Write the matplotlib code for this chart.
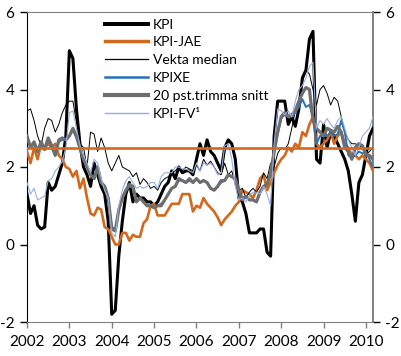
import numpy as np
import matplotlib
matplotlib.use('Agg')
import matplotlib.pyplot as plt

plt.rcParams['font.family'] = ['Lato', 'DejaVu Sans']

# monthly 12-month growth, Jan 2002 - Mar 2010
kpi = [1.3, 0.8, 1.0, 0.5, 0.4, 0.45, 1.6, 1.4, 1.5, 1.8, 2.1, 2.8,
       5.0, 4.8, 3.5, 2.6, 2.0, 1.8, 1.5, 2.1, 1.8, 1.5, 1.3, 0.6,
       -1.8, -1.7, -0.3, 0.6, 1.3, 1.6, 1.1, 1.3, 1.2, 1.2, 1.1, 1.1,
       1.0, 1.1, 1.3, 1.5, 1.6, 1.9, 1.7, 2.0, 1.85, 1.9, 1.9, 1.8,
       2.2, 2.6, 2.3, 2.7, 2.4, 2.3, 2.1, 1.9, 2.5, 2.7, 2.6, 2.2,
       1.2, 1.1, 0.8, 0.3, 0.3, 0.3, 0.4, 0.4, -0.2, -0.3, 2.8, 3.7,
       3.7, 3.7, 3.1, 3.3, 3.05, 3.5, 4.3, 4.5, 5.3, 5.5, 2.2, 2.1,
       3.1, 2.5, 2.9, 2.8, 2.6, 2.4, 2.2, 1.9, 1.3, 0.6, 1.6, 1.8,
       2.3, 2.8, 3.0]
kpi_jae = [2.4, 2.1, 2.5, 2.2, 2.6, 2.5, 2.6, 2.5, 2.6, 2.3, 2.2, 2.0,
           1.95, 1.75, 1.9, 1.45, 1.7, 1.2, 0.8, 0.75, 0.95, 0.9, 0.45, 0.4,
           0.2, 0.0, 0.0, 0.3, 0.3, 0.1, 0.25, 0.2, 0.2, 0.55, 0.65, 1.0,
           1.05, 0.75, 0.75, 0.75, 0.9, 1.05, 1.05, 1.05, 1.3, 1.3, 1.3, 0.85,
           1.0, 0.95, 1.2, 1.05, 0.95, 0.85, 0.7, 0.5, 0.65, 0.75, 0.85, 1.0,
           1.1, 1.4, 1.35, 1.3, 1.2, 1.4, 1.7, 1.8, 1.4, 1.6, 1.85, 2.05,
           2.2, 2.3, 2.5, 2.4, 2.6, 2.5, 2.9, 2.8, 3.1, 3.3, 2.6, 2.5,
           2.6, 2.7, 2.9, 2.6, 2.8, 2.9, 2.6, 2.5, 2.3, 2.3, 2.2, 2.3,
           2.2, 2.1, 1.9]
vekta_median = [3.45, 3.5, 3.2, 2.8, 2.55, 3.0, 3.25, 3.2, 2.9, 3.1, 3.4, 3.6,
                3.7, 3.7, 3.15, 2.6, 2.5, 2.0, 2.9, 2.85, 2.4, 2.75, 2.5, 2.1,
                1.9, 2.1, 2.3, 2.0, 1.95, 1.9, 1.75, 1.85, 1.55, 1.7, 1.6, 1.45,
                1.5, 1.4, 1.6, 1.7, 1.75, 1.85, 1.9, 2.0, 1.9, 2.0, 1.95, 1.9,
                2.05, 1.9, 2.2, 2.05, 2.15, 2.0, 1.85, 1.8, 2.1, 1.8, 1.9, 1.55,
                1.4, 1.45, 1.2, 1.35, 1.45, 1.35, 1.5, 1.85, 1.7, 2.1, 2.0, 2.35,
                2.5, 2.45, 2.6, 3.0, 3.45, 3.7, 4.2, 4.5, 4.4, 4.0, 3.6, 4.0,
                4.1, 3.9, 3.6, 3.8, 3.7, 3.3, 2.9, 2.7, 2.6, 2.6, 2.55, 2.5,
                2.3, 2.4, 2.5]
kpixe = [2.75, 2.5, 2.6, 2.4, 2.6, 2.45, 2.7, 2.5, 2.3, 2.65, 2.7, 2.7,
         2.8, 2.95, 2.75, 2.45, 2.2, 2.0, 1.8, 1.7, 1.95, 1.6, 1.5, 1.2,
         0.45, 0.4, 0.9, 1.2, 1.4, 1.5, 1.45, 1.1, 1.2, 1.1, 1.0, 1.0,
         0.95, 1.0, 1.05, 1.15, 1.3, 1.45, 1.5, 1.65, 1.65, 1.6, 1.65, 1.6,
         1.7, 1.6, 1.65, 1.6, 1.45, 1.4, 1.5, 1.6, 1.65, 1.8, 1.75, 1.7,
         1.4, 1.2, 1.25, 1.15, 1.15, 1.1, 1.35, 1.5, 1.55, 1.85, 2.4, 2.85,
         3.25, 3.35, 3.3, 3.3, 3.4, 3.55, 3.75, 3.55, 3.6, 3.3, 2.6, 2.8,
         2.8, 2.8, 2.9, 2.8, 2.85, 3.2, 2.9, 2.3, 2.25, 2.3, 2.4, 2.35,
         2.4, 2.2, 2.0]
trimma = [2.8, 2.5, 2.65, 2.4, 2.65, 2.45, 2.75, 2.55, 2.3, 2.7, 2.75, 2.7,
          2.8, 3.0, 2.8, 2.5, 2.2, 2.0, 1.8, 1.7, 2.0, 1.6, 1.5, 1.2,
          0.4, 0.35, 0.9, 1.2, 1.4, 1.55, 1.5, 1.1, 1.2, 1.1, 1.0, 1.0,
          0.95, 1.0, 1.0, 1.15, 1.3, 1.45, 1.5, 1.7, 1.65, 1.6, 1.7, 1.6,
          1.7, 1.6, 1.65, 1.6, 1.45, 1.4, 1.5, 1.65, 1.65, 1.8, 1.75, 1.7,
          1.4, 1.15, 1.25, 1.15, 1.15, 1.1, 1.35, 1.5, 1.55, 1.85, 2.4, 2.9,
          3.3, 3.4, 3.3, 3.35, 3.45, 3.7, 3.9, 4.05, 4.0, 3.2, 3.0, 2.9,
          2.8, 3.0, 2.95, 2.9, 3.05, 2.9, 2.5, 2.4, 2.2, 2.5, 2.6, 2.55,
          2.3, 2.3, 2.2]
kpi_fv = [1.6, 1.3, 1.45, 1.15, 1.2, 1.25, 1.65, 1.7, 1.9, 2.0, 2.15, 2.5,
          3.4, 3.45, 3.0, 2.55, 2.3, 2.1, 1.85, 2.2, 2.1, 1.7, 1.4, 1.2,
          0.3, 0.2, 1.0, 1.4, 1.65, 1.75, 1.6, 1.45, 1.5, 1.45, 1.5, 1.6,
          1.6, 1.45, 1.75, 1.85, 1.85, 1.85, 2.0, 2.0, 1.95, 1.95, 1.9, 1.85,
          2.1, 1.9, 2.1, 2.05, 2.1, 2.0, 1.8, 1.85, 2.55, 2.6, 2.2, 1.5,
          1.15, 1.2, 1.1, 1.25, 1.35, 1.35, 1.3, 1.5, 1.3, 1.0, 2.6, 3.5,
          3.45, 3.35, 3.45, 3.3, 3.7, 4.0, 4.1, 4.3, 4.6, 4.7, 3.0, 3.2,
          3.1, 3.25, 3.1, 3.0, 3.2, 3.3, 3.0, 2.7, 2.5, 2.3, 2.5, 2.8,
          2.9, 3.0, 3.3]
target = 2.5
years = list(range(2002, 2011))
yticks = [-2, 0, 2, 4, 6]

x = 2002 + np.arange(len(kpi)) / 12.0

fig = plt.figure(figsize=(4.01, 3.56), dpi=100)
ax = fig.add_axes([27/401, 34/356, 346/401, 310/356])

orange = '#d2691e'
ax.plot(x, kpi, color='black', lw=2.2, label='KPI', zorder=3)
ax.plot(x, kpi_jae, color=orange, lw=1.9, label='KPI-JAE', zorder=3)
ax.plot(x, vekta_median, color='black', lw=0.7, label='Vekta median', zorder=3)
ax.plot(x, kpixe, color='#2a72b8', lw=1.4, label='KPIXE', zorder=3)
ax.plot(x, trimma, color='#6e6e6e', lw=2.3, label='20 pst.trimma snitt', zorder=3)
ax.plot(x, kpi_fv, color='#98aee0', lw=0.8, label='KPI-FV\u00b9', zorder=3)
ax.axhline(target, color=orange, lw=1.9, zorder=4)  # inflation target

ax.set_xlim(x[0], x[-1])
ax.set_ylim(-2, 6)
ax.set_xticks(years)
ax.set_xticklabels([str(y) for y in years])
ax.set_yticks(yticks)
ax.set_yticklabels([str(v) for v in yticks])
ax.tick_params(axis='x', direction='out', length=4, width=1, color='#808080',
               labelsize=11, pad=5)
ax.tick_params(axis='y', direction='out', length=5, width=1, labelsize=11,
               pad=4, right=True, labelright=True)

for s in ['top', 'bottom', 'right']:
    ax.spines[s].set_color('#808080')
ax.spines['right'].set_linewidth(1.4)
ax.spines['left'].set_color('black')

leg = ax.legend(loc='upper left', bbox_to_anchor=(0.2254, 0.979), frameon=False,
                fontsize=10, handlelength=3.1, handletextpad=0.36,
                labelspacing=0.42, borderpad=0, borderaxespad=0)
for line in leg.get_lines():
    line.set_linewidth(line.get_linewidth() * 1.3)

fig.savefig('out.png', dpi=100)
